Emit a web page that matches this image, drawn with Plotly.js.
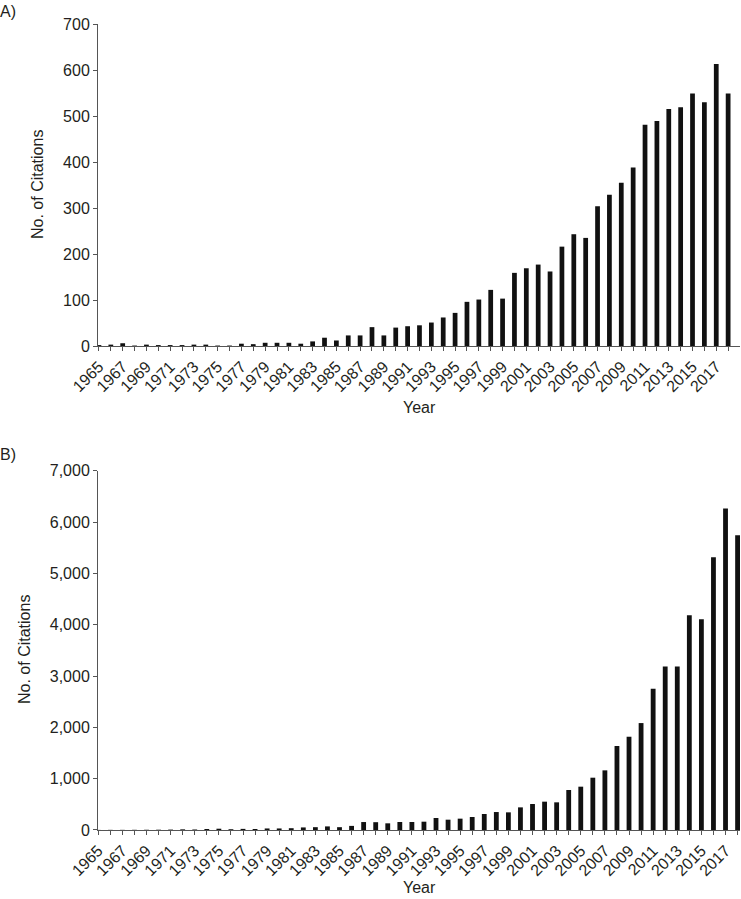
<!DOCTYPE html>
<html>
<head>
<meta charset="utf-8">
<script src="https://cdn.plot.ly/plotly-3.0.1.min.js"></script>
<style>
  body { margin: 0; background: #fff; }
  #chart { width: 741px; height: 899px; }
</style>
</head>
<body>
<div id="chart"></div>
<script>
const years = [1965, 1966, 1967, 1968, 1969, 1970, 1971, 1972, 1973, 1974,
    1975, 1976, 1977, 1978, 1979, 1980, 1981, 1982, 1983, 1984,
    1985, 1986, 1987, 1988, 1989, 1990, 1991, 1992, 1993, 1994,
    1995, 1996, 1997, 1998, 1999, 2000, 2001, 2002, 2003, 2004,
    2005, 2006, 2007, 2008, 2009, 2010, 2011, 2012, 2013, 2014,
    2015, 2016, 2017, 2018];

// panel A
const citationsA = [2, 3, 6, 1, 3, 2, 2, 2, 3, 3,
    1, 1, 5, 4, 7, 7, 7, 5, 10, 18,
    12, 23, 23, 41, 23, 40, 43, 45, 51, 62,
    72, 96, 101, 122, 103, 159, 169, 177, 162, 216,
    243, 235, 304, 329, 355, 388, 481, 489, 515, 519,
    549, 530, 613, 549];

// panel B
const citationsB = [2, 3, 3, 4, 5, 6, 8, 13, 10, 20,
    25, 15, 22, 20, 30, 30, 35, 50, 55, 70,
    55, 80, 155, 152, 130, 156, 156, 162, 234, 201,
    221, 253, 312, 350, 344, 441, 506, 552, 539, 779,
    844, 1019, 1162, 1636, 1817, 2083, 2752, 3187, 3187, 4186,
    4108, 5315, 6263, 5744];

// every year gets a tick, every other year gets a label
const tickText = years.map((y, i) => (i % 2 === 0 ? String(y) : ""));

const textColor = "#231f20";
const lineColor = "#555555";
const font = {family: "Liberation Sans, Arial, sans-serif", size: 16, color: textColor};

const data = [
    {
        x: years,
        y: citationsA,
        type: "bar",
        width: 0.4,
        marker: {color: "#111111"},
        xaxis: "x",
        yaxis: "y",
        hoverinfo: "x+y"
    },
    {
        x: years,
        y: citationsB,
        type: "bar",
        width: 0.4,
        marker: {color: "#111111"},
        xaxis: "x2",
        yaxis: "y2",
        hoverinfo: "x+y"
    }
];

function xAxis(range, anchor) {
    return {
        anchor: anchor,
        domain: [0, 1],
        range: range,
        tickmode: "array",
        tickvals: years,
        ticktext: tickText,
        tickangle: -45,
        ticks: "outside",
        ticklen: 4,
        tickcolor: lineColor,
        showline: true,
        linecolor: lineColor,
        showgrid: false,
        zeroline: false,
        tickfont: font
    };
}

function yAxis(range, dtick, domain, anchor, fmt) {
    return {
        anchor: anchor,
        domain: domain,
        range: range,
        dtick: dtick,
        tickformat: fmt,
        ticks: "outside",
        ticklen: 4,
        tickcolor: lineColor,
        showline: true,
        linecolor: lineColor,
        showgrid: false,
        zeroline: false,
        tickfont: font
    };
}

// axis titles and panel letters sit at fixed paper positions
function label(text, x, y, angle) {
    return {
        text: text, xref: "paper", yref: "paper", x: x, y: y,
        xanchor: "center", yanchor: "middle", showarrow: false,
        textangle: angle || 0, font: font
    };
}

const layout = {
    width: 741,
    height: 899,
    margin: {l: 98, r: 1, t: 24, b: 69},
    paper_bgcolor: "#ffffff",
    plot_bgcolor: "#ffffff",
    showlegend: false,
    font: font,
    separators: ".,",
    xaxis: xAxis([1964.92, 2019.0], "y"),
    yaxis: yAxis([0, 700], 100, [0.6005, 1], "x", "d"),
    xaxis2: xAxis([1964.98, 2018.2], "y2"),
    yaxis2: yAxis([0, 7000], 1000, [0, 0.4458], "x2", ",d"),
    annotations: [
        label("A)", -0.140, 1.0149),
        label("B)", -0.140, 0.4653),
        label("Year", 0.501, (830 - 407) / 806),
        label("Year", 0.501, (830 - 888) / 806),
        label("No. of Citations", (37 - 98) / 642, (830 - 185) / 806, -90),
        label("No. of Citations", (24 - 98) / 642, (830 - 650) / 806, -90)
    ]
};

Plotly.newPlot("chart", data, layout, {displayModeBar: false, staticPlot: true});
</script>
</body>
</html>
